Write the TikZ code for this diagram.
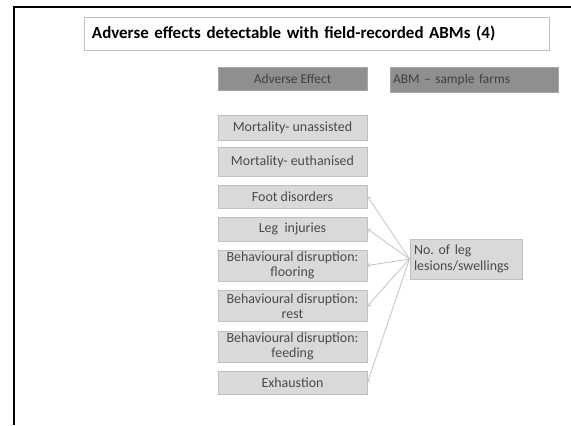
\documentclass[tikz,border=0pt]{standalone}
\usepackage{fontspec}
\setmainfont{Carlito}
\usetikzlibrary{arrows.meta}
\definecolor{boxfill}{HTML}{D9D9D9}
\definecolor{boxline}{HTML}{BFBFBF}
\definecolor{boxtext}{HTML}{4A4A4A}
\definecolor{headfill}{HTML}{8F8F8F}
\definecolor{headline}{HTML}{A6A6A6}
\definecolor{conn}{HTML}{C8C8C8}
\frenchspacing
\begin{document}
\begin{tikzpicture}[x=1bp,y=-1bp,
  effect/.style={draw=boxline,fill=boxfill,line width=1bp,minimum width=149bp,inner sep=1bp,
    align=center,text=boxtext,font=\fontsize{14}{14.5}\selectfont},
  head/.style={draw=headline,fill=headfill,line width=1bp,inner sep=2bp,text=black!75,
    font=\fontsize{13.5}{15}\selectfont},
  titlebox/.style={draw=boxline,fill=white,line width=1bp,minimum height=33bp,inner xsep=7bp,
    text width=450bp,align=left,font=\bfseries\fontsize{17}{19}\selectfont},
  abm/.style={draw=boxline,fill=boxfill,line width=1bp,minimum width=112bp,minimum height=40bp,
    inner sep=4bp,align=left,text=boxtext,font=\fontsize{14}{16}\selectfont},
  conn/.style={draw=conn,line width=0.9bp,-{Straight Barb[length=2bp,width=4.5bp]}}
]
\useasboundingbox (0,0) rectangle (571,425);
\fill[white] (0,0) rectangle (571,425);
% frame
\draw[line width=2bp,black] (13.5,425) -- (13.5,6.5) -- (571,6.5);

\node[titlebox] (title) at (317,33.5) {Adverse effects detectable with field-recorded ABMs (4)};

\node[head,minimum width=149bp,minimum height=23bp] (hae) at (292.5,78.5) {Adverse Effect};
\node[head,minimum width=168bp,minimum height=25bp,text width=162bp,align=left] (habm) at (474,79.5) {ABM -- sample farms};

\node[effect,minimum height=25bp] (mu) at (292.5,127.5) {Mortality- unassisted};
\node[effect,minimum height=29bp] (me) at (292.5,162) {Mortality- euthanised};
\node[effect,minimum height=23bp] (fd) at (292.5,196.5) {Foot disorders};
\node[effect,minimum height=24bp] (li) at (292.5,229) {Leg \ injuries};
\node[effect,minimum height=31bp] (bf) at (292.5,265.5) {Behavioural disruption:\\flooring};
\node[effect,minimum height=31bp] (br) at (292.5,306) {Behavioural disruption:\\rest};
\node[effect,minimum height=31bp] (bfe) at (292.5,346.5) {Behavioural disruption:\\feeding};
\node[effect,minimum height=23bp] (ex) at (292.5,382.5) {Exhaustion};

\node[abm,text width=104bp] (leg) at (466,259) {No. of leg\\lesions/swellings};

\foreach \t in {fd,li,bf,br,ex}{
  \draw[conn] (leg.west) -- (\t.east);
}
\end{tikzpicture}
\end{document}
